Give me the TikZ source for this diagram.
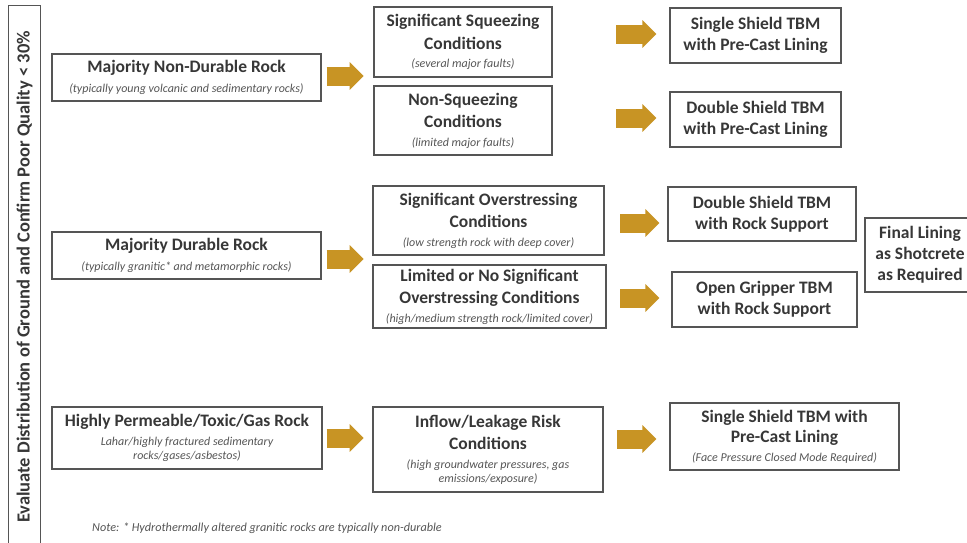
\documentclass[tikz,border=0pt]{standalone}
\usepackage{fontspec}
\setmainfont{Carlito}
\usetikzlibrary{arrows.meta,calc}
\definecolor{gold}{RGB}{200,148,36}
\definecolor{boxline}{RGB}{85,85,85}
\definecolor{txt}{RGB}{55,55,55}
\definecolor{subtxt}{RGB}{85,85,85}
\newcommand{\mtxt}{\fontsize{17.5}{22.5}\selectfont\bfseries}
\newcommand{\stxt}[1]{{\fontsize{12}{13.5}\selectfont\itshape\mdseries\color{subtxt}#1}}
\begin{document}
\begin{tikzpicture}[x=1pt,y=-1pt,
  box/.style={draw=boxline,line width=1.3pt,inner sep=0pt,align=center,text=txt,font=\mtxt},
  barrow/.style={draw=gold,line width=19pt,-{Triangle[width=27pt,length=14pt]}}]
\useasboundingbox (0,0) rectangle (967,542);
% left bar
\node[box,minimum width=32,minimum height=560,anchor=north west] (bar) at (8,5) {};
\node[rotate=90,inner sep=0pt,text=txt,font=\fontsize{18.5}{22}\selectfont\bfseries] (bartxt) at (bar.center |- 0,277)
  {Evaluate Distribution of Ground and Confirm Poor Quality < 30\%};
% column 1
\node[box,minimum width=269,minimum height=47] (nd) at (186.5,77.5)
  {Majority Non-Durable Rock\\[-2pt]\stxt{(typically young volcanic and sedimentary rocks)}};
\node[box,minimum width=269,minimum height=47] (dr) at (186.5,255.5)
  {Majority Durable Rock\\[-2pt]\stxt{(typically granitic* and metamorphic rocks)}};
\node[box,minimum width=270,minimum height=62] (hp) at (187,438)
  {Highly Permeable/Toxic/Gas Rock\\[-4pt]\stxt{Lahar/highly fractured sedimentary}\\[-8.5pt]\stxt{rocks/gases/asbestos)}};
% column 2
\node[box,minimum width=178,minimum height=70] (sq) at (463,42)
  {Significant Squeezing\\Conditions\\[-4pt]\stxt{(several major faults)}};
\node[box,minimum width=178,minimum height=69] (nsq) at (463,120.5)
  {Non-Squeezing\\Conditions\\[-4pt]\stxt{(limited major faults)}};
\node[box,minimum width=231,minimum height=69] (so) at (488.5,220.5)
  {Significant Overstressing\\Conditions\\[-4pt]\stxt{(low strength rock with deep cover)}};
\node[box,minimum width=233,minimum height=63] (lo) at (489.5,296.5)
  {Limited or No Significant\\Overstressing Conditions\\[-4pt]\stxt{(high/medium strength rock/limited cover)}};
\node[box,minimum width=230,minimum height=85] (inf) at (488,449.5)
  {Inflow/Leakage Risk\\Conditions\\[-4pt]\stxt{(high groundwater pressures, gas}\\[-8.5pt]\stxt{emissions/exposure)}};
% column 3
\node[box,minimum width=171,minimum height=55] (ss) at (755.5,35.5)
  {Single Shield TBM\\[-1.5pt]with Pre-Cast Lining};
\node[box,minimum width=171,minimum height=55] (dsp) at (755.5,119.5)
  {Double Shield TBM\\[-1.5pt]with Pre-Cast Lining};
\node[box,minimum width=188,minimum height=54] (dsr) at (762,214)
  {Double Shield TBM\\[-1.5pt]with Rock Support};
\node[box,minimum width=185,minimum height=55] (og) at (764.5,299.5)
  {Open Gripper TBM\\[-1.5pt]with Rock Support};
\node[box,minimum width=229,minimum height=67] (ssw) at (784.5,436.5)
  {Single Shield TBM with\\[-2pt]Pre-Cast Lining\\[-4pt]\stxt{(Face Pressure Closed Mode Required)}};
\node[box,minimum width=110,minimum height=74] (fl) at (920,255)
  {Final Lining\\[-1.5pt]as Shotcrete\\[-1.5pt]as Required};
% arrows
\draw[barrow] ($(nd.east)+(5,-1.5)$) -- ++(37,0);
\draw[barrow] ($(dr.east)+(5,3.5)$) -- ++(37,0);
\draw[barrow] ($(hp.east)+(4,0)$) -- ++(37,0);
\draw[barrow] ($(ss.west)+(-53,-1.5)$) -- ++(40,0);
\draw[barrow] ($(dsp.west)+(-53,-1.5)$) -- ++(40,0);
\draw[barrow] ($(dsr.west)+(-47,9)$) -- ++(39,0);
\draw[barrow] ($(og.west)+(-51,-1.5)$) -- ++(39,0);
\draw[barrow] ($(ssw.west)+(-52,2.5)$) -- ++(39,0);
% note
\node[anchor=west,inner sep=0pt,font=\fontsize{12.2}{14}\selectfont\itshape,text=subtxt] (note) at (92,528)
  {Note: * Hydrothermally altered granitic rocks are typically non-durable};
\end{tikzpicture}
\end{document}
